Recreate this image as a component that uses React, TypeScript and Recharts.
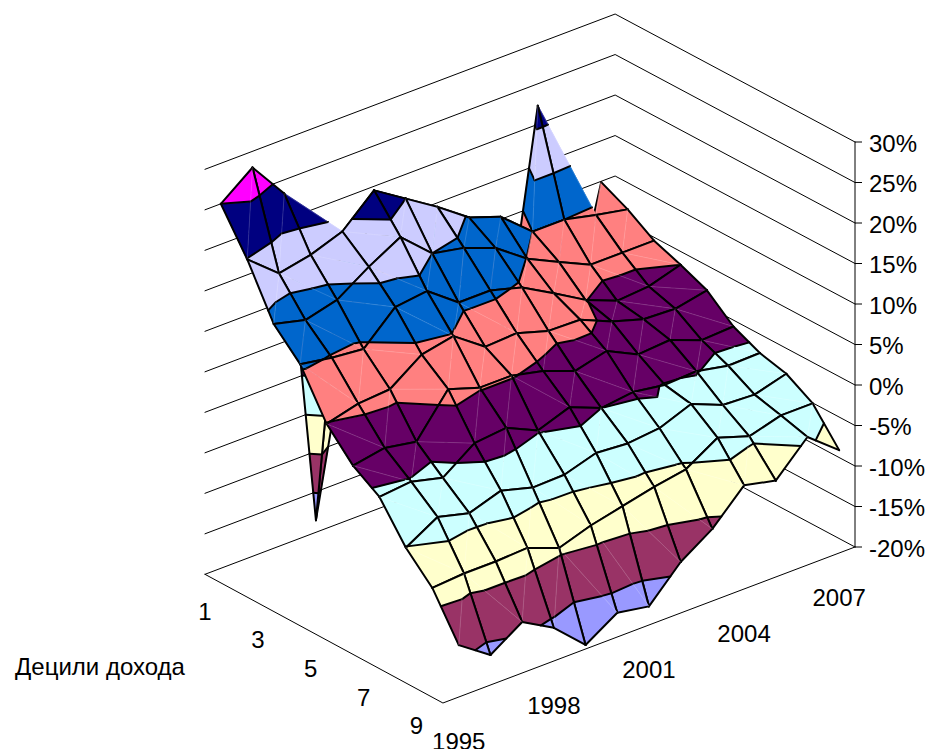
import { ScatterChart, Scatter, XAxis, YAxis } from "recharts";

// income deciles by year, percent
const YEARS = [1995, 1996, 1997, 1998, 1999, 2000, 2001, 2002, 2003, 2004, 2005, 2006, 2007];
const decile1 = [25.0, 28.0, 23.3, -18.5, 3.5, 8.0, 6.0, 5.0, 3.0, -4.0, 22.3, -6.0, 9.9];
const decile2 = [19.9, 16.7, 17.5, 18.9, 22.5, 20.0, 17.5, 14.7, 13.3, 10.0, 10.0, 9.1, 8.3];
const decile3 = [13.7, 12.7, 13.7, 16.3, 18.5, 15.0, 14.2, 12.7, 9.9, 8.0, 6.2, 6.2, 6.2];
const decile4 = [10.5, 9.8, 9.4, 13.1, 13.6, 10.7, 10.7, 9.6, 7.4, 5.1, 3.5, 3.8, 5.0];
const decile5 = [4.9, 5.9, 6.2, 9.0, 9.8, 7.0, 7.2, 6.0, 5.9, 4.2, 3.0, 2.8, 3.6];
const decile6 = [1.5, 2.2, 1.5, 6.5, 5.2, 5.2, 4.3, 2.8, 3.8, 1.9, 2.2, 0.7, 0.9];
const decile7 = [-0.6, -0.2, -1.2, 1.6, 2.0, 0.2, 1.6, 0.0, 0.5, -0.1, 0.1, -0.7, -0.6];
const decile8 = [-5.1, -2.8, -3.8, -2.5, -3.6, -3.5, -2.3, -2.6, -2.2, -0.7, -2.3, -2.5, -1.4];
const decile9 = [-8.3, -8.0, -8.0, -7.8, -9.3, -8.0, -7.1, -6.2, -5.5, -3.1, -4.4, -3.3, -3.3];
const decile10 = [-13.6, -16.3, -13.7, -15.9, -19.5, -17.0, -17.7, -13.7, -11.1, -7.2, -8.1, -4.2, -7.3];
const SURFACE = [decile1, decile2, decile3, decile4, decile5, decile6, decile7, decile8, decile9, decile10];

const VALUE_TICKS = [-20, -15, -10, -5, 0, 5, 10, 15, 20, 25, 30];
const BAND_COLORS = ["#9999FF", "#993366", "#FFFFCC", "#CCFFFF", "#660066", "#FF8080", "#0066CC", "#CCCCFF", "#000080", "#FF00FF"];
const DECILE_LABELS = ["1", "3", "5", "7", "9"];
const YEAR_LABELS = ["1995", "1998", "2001", "2004", "2007"];

const FONT = "'Liberation Sans', Arial, sans-serif";
const GRID_WIDTH = 2;

// oblique view: the floor is sheared onto the plot, height is the y axis itself
const projX = (I: number, J: number) => 205 + 26.44 * I + 31.7 * J;
const floorPx = (I: number, J: number) => 574.3 + 14.3 * I - 12 * J;
const toHeight = (I: number, J: number, v: number) => v + (547 - floorPx(I, J)) / 8.1;

interface Vert { x: number; y: number; v: number }
interface Piece { pts: Vert[]; fill?: string; stroke?: string; width?: number }

const vert = (I: number, J: number, v: number): Vert => ({ x: projX(I, J), y: toHeight(I, J, v), v });
const node = (i: number, j: number) => vert(i, j + 0.5, SURFACE[i][j]);

const mix = (p: Vert, q: Vert, level: number): Vert => {
    const t = (level - p.v) / (q.v - p.v);
    return { x: p.x + (q.x - p.x) * t, y: p.y + (q.y - p.y) * t, v: level };
};

// keep the part of a polygon on one side of a value level
const clip = (poly: Vert[], level: number, above: boolean) => {
    const out: Vert[] = [];
    poly.forEach((p, n) => {
        const q = poly[(n + 1) % poly.length];
        const pIn = above ? p.v >= level : p.v <= level;
        const qIn = above ? q.v >= level : q.v <= level;
        if (pIn) out.push(p);
        if (pIn !== qIn) out.push(mix(p, q, level));
    });
    return out;
};

const triangle = (tri: Vert[], pieces: Piece[]) => {
    BAND_COLORS.forEach((color, b) => {
        const part = clip(clip(tri, VALUE_TICKS[b], true), VALUE_TICKS[b + 1], false);
        if (part.length > 2) pieces.push({ pts: part, fill: color, stroke: color, width: 0.6 });
    });
    // contour lines between the bands
    VALUE_TICKS.slice(1, -1).forEach((level) => {
        const hits: Vert[] = [];
        tri.forEach((p, n) => {
            const q = tri[(n + 1) % 3];
            if ((p.v - level - 1e-6) * (q.v - level - 1e-6) < 0) hits.push(mix(p, q, level));
        });
        if (hits.length === 2) pieces.push({ pts: hits, stroke: "#000", width: GRID_WIDTH });
    });
};

const buildSurface = () => {
    const pieces: Piece[] = [];
    const edge = (p: Vert, q: Vert) => pieces.push({ pts: [p, q], stroke: "#000", width: GRID_WIDTH });
    const faint = (p: Vert, q: Vert) => pieces.push({ pts: [p, q], stroke: "rgba(255,255,255,0.2)", width: 0.8 });
    // back corner first, front corner last
    for (let i = 0; i < SURFACE.length - 1; i++) {
        for (let j = YEARS.length - 2; j >= 0; j--) {
            const a = node(i, j);
            const b = node(i, j + 1);
            const c = node(i + 1, j + 1);
            const d = node(i + 1, j);
            const acDiagonal = Math.abs(a.v - c.v) < Math.abs(b.v - d.v);
            if (acDiagonal) {
                triangle([a, b, c], pieces);
                edge(a, b);
                edge(b, c);
                triangle([a, c, d], pieces);
                edge(c, d);
                edge(d, a);
                faint(a, c);
            } else {
                triangle([a, b, d], pieces);
                edge(a, b);
                edge(d, a);
                triangle([b, c, d], pieces);
                edge(b, c);
                edge(c, d);
                faint(b, d);
            }
        }
    }
    return pieces;
};

const buildWalls = () => {
    const pieces: Piece[] = [];
    VALUE_TICKS.forEach((level) => {
        pieces.push({ pts: [vert(0, 0, level), vert(0, 12.94, level), vert(9, 13, level)], stroke: "#000", width: 1 });
    });
    pieces.push({ pts: [vert(0, 0, -20), vert(9, 0, -20), vert(9, 13, -20)], stroke: "#000", width: 1 });
    pieces.push({ pts: [vert(9, 13, -20), vert(9, 13, 30)], stroke: "#000", width: 1 });
    return pieces;
};

const SURFACE_PIECES = buildSurface();
const WALL_PIECES = buildWalls();
const flat = (pieces: Piece[]) => pieces.flatMap((p) => p.pts.map(({ x, y }) => ({ x, y })));

// the scatter hands over its points in pixels, one run of them per piece
const Pieces = ({ points, pieces }: { points: { x: number; y: number }[]; pieces: Piece[] }) => {
    let at = 0;
    return (
        <g>
            {pieces.map((p, n) => {
                const run = points.slice(at, at + p.pts.length);
                at += p.pts.length;
                const d = "M" + run.map((q) => `${q.x},${q.y}`).join("L") + (p.fill ? "Z" : "");
                return (
                    <path
                        key={n}
                        d={d}
                        fill={p.fill ?? "none"}
                        stroke={p.stroke}
                        strokeWidth={p.width}
                        strokeLinejoin="round"
                        strokeLinecap="round"
                    />
                );
            })}
        </g>
    );
};

const labelData = [
    ...DECILE_LABELS.map((label) => {
        const I = Number(label) - 1;
        return { label, x: projX(I, 0), y: toHeight(I, 0, -20 - 37 / 8.1) };
    }),
    ...YEAR_LABELS.map((label) => {
        const J = Number(label) - 1995 + 0.5;
        return { label, x: projX(9, J), y: toHeight(9, J, -20 - 44 / 8.1) };
    }),
    { label: "Децили дохода", x: 100, y: -34.8 },
];

const NoDot = () => <g />;

const TextDot = (p: any) => (
    <text x={p.cx} y={p.cy} textAnchor="middle" dominantBaseline="central" fontSize={24} fontFamily={FONT} fill="#000">
        {p.payload.label}
    </text>
);

export default function App() {
    return (
        <div style={{ position: "absolute", left: 0, top: 0, width: 930, height: 749, background: "#fff", overflow: "hidden" }}>
            <ScatterChart width={930} height={749} margin={{ top: 0, right: 0, bottom: 0, left: 0 }}>
                <XAxis type="number" dataKey="x" domain={[0, 855]} hide />
                <YAxis
                    type="number"
                    dataKey="y"
                    orientation="right"
                    width={75}
                    domain={[-44.938, 47.531]}
                    ticks={VALUE_TICKS}
                    interval={0}
                    tickFormatter={(v: number) => `${v}%`}
                    axisLine={false}
                    tickSize={7}
                    tickMargin={7}
                    tickLine={{ stroke: "#000", strokeWidth: 1 }}
                    tick={{ fontSize: 24, fontFamily: FONT, fill: "#000", dy: 1 }}
                />
                <Scatter
                    data={flat(WALL_PIECES)}
                    isAnimationActive={false}
                    shape={NoDot}
                    line={(p: any) => <Pieces points={p.points} pieces={WALL_PIECES} />}
                />
                <Scatter
                    data={flat(SURFACE_PIECES)}
                    isAnimationActive={false}
                    shape={NoDot}
                    line={(p: any) => <Pieces points={p.points} pieces={SURFACE_PIECES} />}
                />
                <Scatter data={labelData} isAnimationActive={false} shape={TextDot} />
            </ScatterChart>
        </div>
    );
}
